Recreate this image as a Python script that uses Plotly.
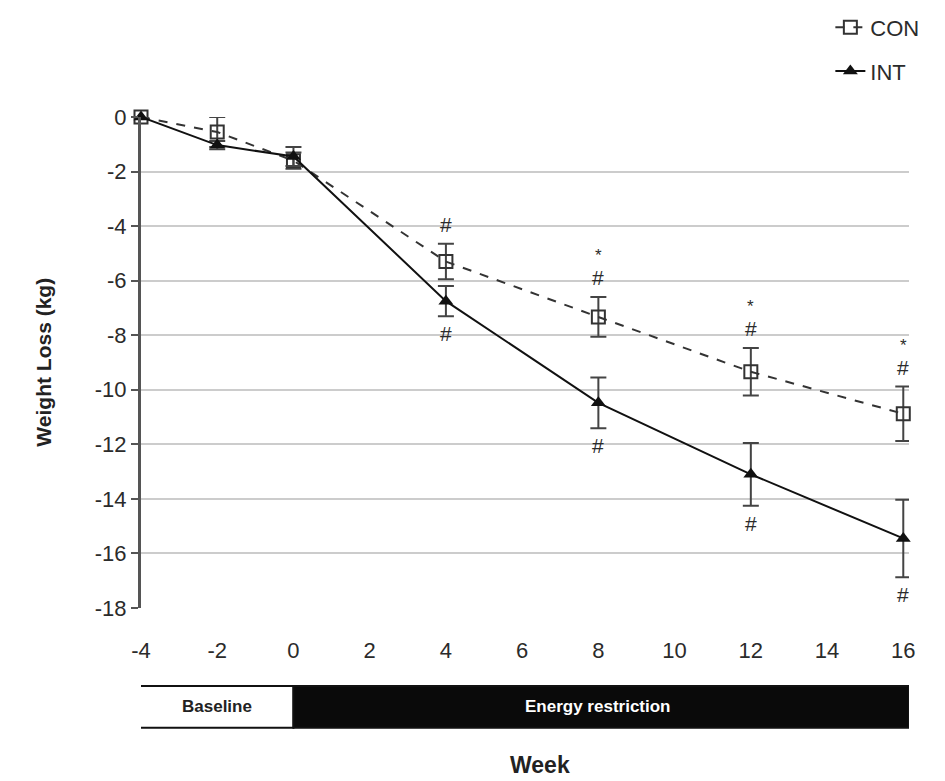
import plotly.graph_objects as go

weeks = [-4, -2, 0, 4, 8, 12, 16]
con = [0, -0.55, -1.6, -5.3, -7.33, -9.34, -10.88]
con_err = [0, 0.55, 0.3, 0.65, 0.73, 0.87, 1.0]
int_vals = [0, -1.03, -1.45, -6.75, -10.48, -13.1, -15.45]
int_err = [0, 0.15, 0.35, 0.55, 0.93, 1.15, 1.42]

sig_weeks = [4, 8, 12, 16]
con_hash = ["#", "#", "#", "#"]
con_star = ["", "*", "*", "*"]
int_hash = ["#", "#", "#", "#"]

y_ticks = list(range(-18, 1, 2))
y_labels = [str(v) for v in y_ticks]
x_ticks = list(range(-4, 17, 2))
x_labels = [str(v) for v in x_ticks]

FONT = "Liberation Sans, Arial, sans-serif"
TXT = "#2b2b2b"
XR = [-4, 16.15]

fig = go.Figure()
fig.add_trace(go.Scatter(
    x=weeks, y=con, name="CON", mode="lines+markers", cliponaxis=False,
    line=dict(color="#333333", width=2, dash="dash"),
    marker=dict(symbol="square-open", size=13, color="#333333", line=dict(width=2)),
    error_y=dict(type="data", array=con_err, color="#444444", thickness=2, width=8),
    legendgroup="a",
))
fig.add_trace(go.Scatter(
    x=weeks, y=int_vals, name="INT", mode="lines+markers", cliponaxis=False,
    line=dict(color="#111111", width=2),
    marker=dict(symbol="triangle-up", size=13, color="#111111"),
    error_y=dict(type="data", array=int_err, color="#444444", thickness=2, width=8),
    legendgroup="b",
))

ann = []
for i, w in enumerate(sig_weeks):
    k = weeks.index(w)
    top = con[k] + con_err[k]
    ann.append(dict(x=w, y=top, text=con_hash[i], showarrow=False, yanchor="bottom",
                    yshift=6, font=dict(size=21, color=TXT, family=FONT)))
    if con_star[i]:
        ann.append(dict(x=w, y=top, text=con_star[i], showarrow=False, yanchor="bottom",
                        yshift=30, font=dict(size=17, color=TXT, family=FONT)))
    bot = int_vals[k] - int_err[k]
    ann.append(dict(x=w, y=bot, text=int_hash[i], showarrow=False, yanchor="top",
                    yshift=-4, font=dict(size=21, color=TXT, family=FONT)))

# period bar labels
ann.append(dict(x=-2, y=-0.2, xref="x", yref="paper", text="<b>Baseline</b>", showarrow=False,
                font=dict(size=17, color="#222222", family=FONT), yanchor="middle"))
ann.append(dict(x=8, y=-0.2, xref="x", yref="paper", text="<b>Energy restriction</b>", showarrow=False,
                font=dict(size=17, color="white", family=FONT), yanchor="middle"))
ann.append(dict(x=0.52, y=-0.32, xref="paper", yref="paper", text="<b>Week</b>", showarrow=False,
                font=dict(size=23, color="#222222", family=FONT), yanchor="middle"))
ann.append(dict(x=-0.145, y=0.5, xref="paper", yref="paper", text="<b>Weight Loss (kg)</b>",
                showarrow=False, textangle=-90,
                font=dict(size=21, color="#222222", family=FONT)))

shapes = [
    dict(type="rect", xref="x", yref="paper", x0=-4.1, x1=0, y0=-0.244, y1=-0.159,
         fillcolor="white", line=dict(color="#111111", width=2)),
    dict(type="rect", xref="x", yref="paper", x0=0, x1=16.15, y0=-0.244, y1=-0.159,
         fillcolor="#0a0a0a", line=dict(color="#111111", width=2)),
]

fig.update_layout(
    width=937, height=773,
    margin=dict(l=133, r=36, t=109, b=173, autoexpand=False),
    paper_bgcolor="white", plot_bgcolor="white",
    font=dict(family=FONT, color=TXT),
    annotations=ann, shapes=shapes,
    showlegend=True,
    legend=dict(x=1.02, xanchor="right", y=1.225, yanchor="top",
                font=dict(size=22, color=TXT, family=FONT),
                traceorder="grouped", tracegroupgap=12, bgcolor="rgba(0,0,0,0)"),
    xaxis=dict(range=XR, tickvals=x_ticks, ticktext=x_labels, showgrid=False, zeroline=False,
               showline=False, ticks="", ticklabelstandoff=27, automargin=False,
               tickfont=dict(size=22, color=TXT)),
    xaxis2=dict(range=XR, overlaying="x", side="top", tickvals=x_ticks,
                showticklabels=False, showline=True, linecolor="#555555", linewidth=3,
                ticks="inside", ticklen=7, tickwidth=2, tickcolor="#555555",
                showgrid=False, zeroline=False, automargin=False),
    yaxis=dict(range=[-18, 0], tickvals=y_ticks, ticktext=y_labels, showgrid=True, gridcolor="#cccccc",
               gridwidth=2, zeroline=False, showline=True, linecolor="#555555", linewidth=3,
               ticks="outside", ticklen=7, tickwidth=2, tickcolor="#555555", automargin=False,
               tickfont=dict(size=22, color=TXT)),
)

fig.write_html("out.html")
